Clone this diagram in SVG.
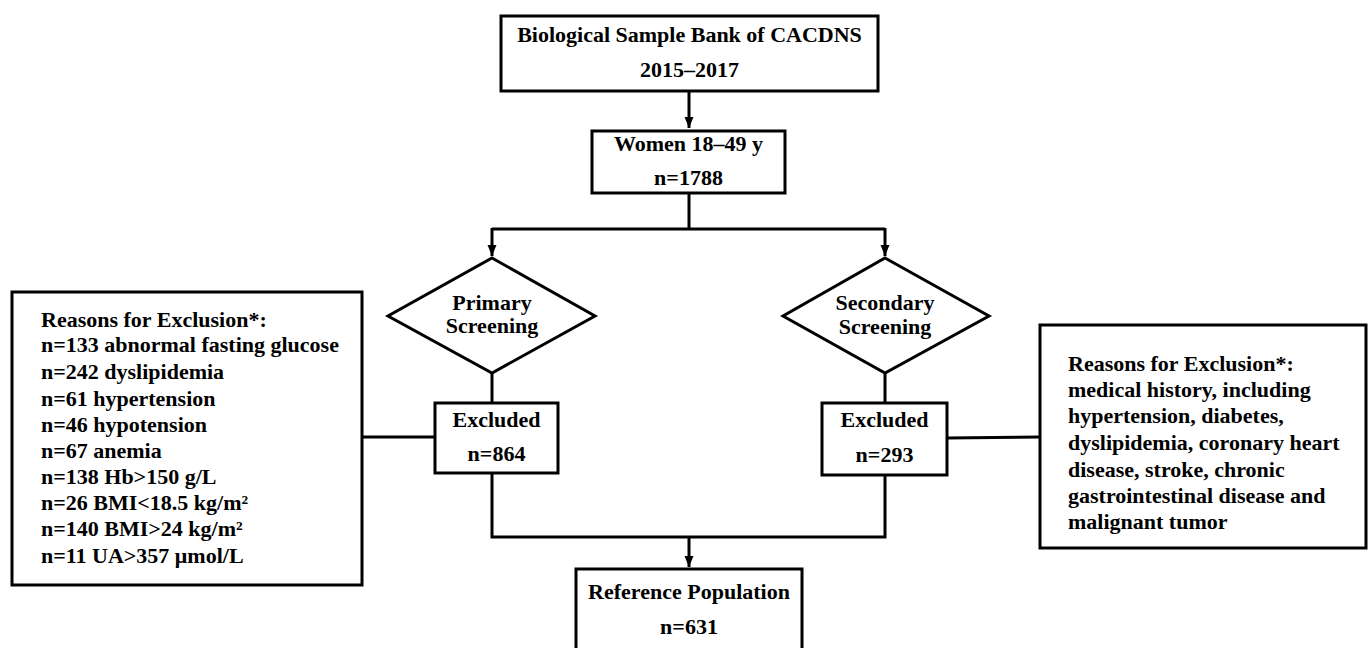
<svg xmlns="http://www.w3.org/2000/svg" width="1368" height="648" viewBox="0 0 1368 648">
<style>
.box{fill:#fff;stroke:#000;stroke-width:3}
.ln{fill:none;stroke:#000;stroke-width:3}
text{font-family:"Liberation Serif","Times New Roman",serif;font-weight:bold;font-size:22px;fill:#000}
.c{text-anchor:middle}
</style>
<defs>
<marker id="ah" markerUnits="userSpaceOnUse" markerWidth="12" markerHeight="12" viewBox="0 0 12 12" refX="11" refY="6" orient="auto">
<path d="M0,1.5 L11,6 L0,10.5 Z" fill="#000"/>
</marker>
</defs>
<rect width="1368" height="648" fill="#fff"/>
<g id="connectors">
<line class="ln" x1="689" y1="92" x2="689" y2="128" marker-end="url(#ah)"/>
<polyline class="ln" points="689,193 689,229"/>
<polyline class="ln" points="492,229 885,229"/>
<line class="ln" x1="492" y1="228" x2="492" y2="256" marker-end="url(#ah)"/>
<line class="ln" x1="885" y1="228" x2="885" y2="256" marker-end="url(#ah)"/>
<line class="ln" x1="492" y1="373" x2="492" y2="403"/>
<line class="ln" x1="885" y1="373" x2="885" y2="403"/>
<line class="ln" x1="362" y1="437" x2="435" y2="437"/>
<line class="ln" x1="947" y1="438" x2="1040" y2="437"/>
<polyline class="ln" points="492,473 492,537 885,537 885,475"/>
<line class="ln" x1="689" y1="536" x2="689" y2="567" marker-end="url(#ah)"/>
</g>
<g id="n-bank">
<rect class="box" x="501" y="16" width="377" height="75"/>
<text class="c" x="689.5" y="42">Biological Sample Bank of CACDNS</text>
<text class="c" x="689.5" y="77">2015–2017</text>
</g>
<g id="n-women">
<rect class="box" x="592" y="131" width="193" height="62"/>
<text class="c" x="688.5" y="151">Women 18–49 y</text>
<text class="c" x="688.5" y="185">n=1788</text>
</g>
<g id="n-primary">
<polygon class="box" points="492,258 595,316 492,373 388,316"/>
<text class="c" x="492" y="310">Primary</text>
<text class="c" x="492" y="333">Screening</text>
</g>
<g id="n-secondary">
<polygon class="box" points="885,258 989,316 885,373 783,316"/>
<text class="c" x="885" y="310">Secondary</text>
<text class="c" x="885" y="334">Screening</text>
</g>
<g id="n-excl1">
<rect class="box" x="435" y="403" width="123" height="70"/>
<text class="c" x="496.5" y="427">Excluded</text>
<text class="c" x="496.5" y="461">n=864</text>
</g>
<g id="n-excl2">
<rect class="box" x="822" y="403" width="125" height="72"/>
<text class="c" x="884.5" y="427">Excluded</text>
<text class="c" x="884.5" y="462">n=293</text>
</g>
<g id="n-reasons1">
<rect class="box" x="12" y="292" width="350" height="293"/>
<text x="41" y="327">Reasons for Exclusion*:</text>
<text x="41" y="352">n=133 abnormal fasting glucose</text>
<text x="41" y="379">n=242 dyslipidemia</text>
<text x="41" y="406">n=61 hypertension</text>
<text x="41" y="432">n=46 hypotension</text>
<text x="41" y="458">n=67 anemia</text>
<text x="41" y="484">n=138 Hb&gt;150 g/L</text>
<text x="41" y="510">n=26 BMI&lt;18.5 kg/m²</text>
<text x="41" y="536">n=140 BMI&gt;24 kg/m²</text>
<text x="41" y="563">n=11 UA&gt;357 μmol/L</text>
</g>
<g id="n-reasons2">
<rect class="box" x="1040" y="325" width="326" height="223"/>
<text x="1068" y="371">Reasons for Exclusion*:</text>
<text x="1068" y="397">medical history, including</text>
<text x="1068" y="423">hypertension, diabetes,</text>
<text x="1068" y="450">dyslipidemia, coronary heart</text>
<text x="1068" y="477">disease, stroke, chronic</text>
<text x="1068" y="503">gastrointestinal disease and</text>
<text x="1068" y="529">malignant tumor</text>
</g>
<g id="n-ref">
<rect class="box" x="576" y="569" width="226" height="95"/>
<text class="c" x="689" y="599">Reference Population</text>
<text class="c" x="689" y="634">n=631</text>
</g>
</svg>
